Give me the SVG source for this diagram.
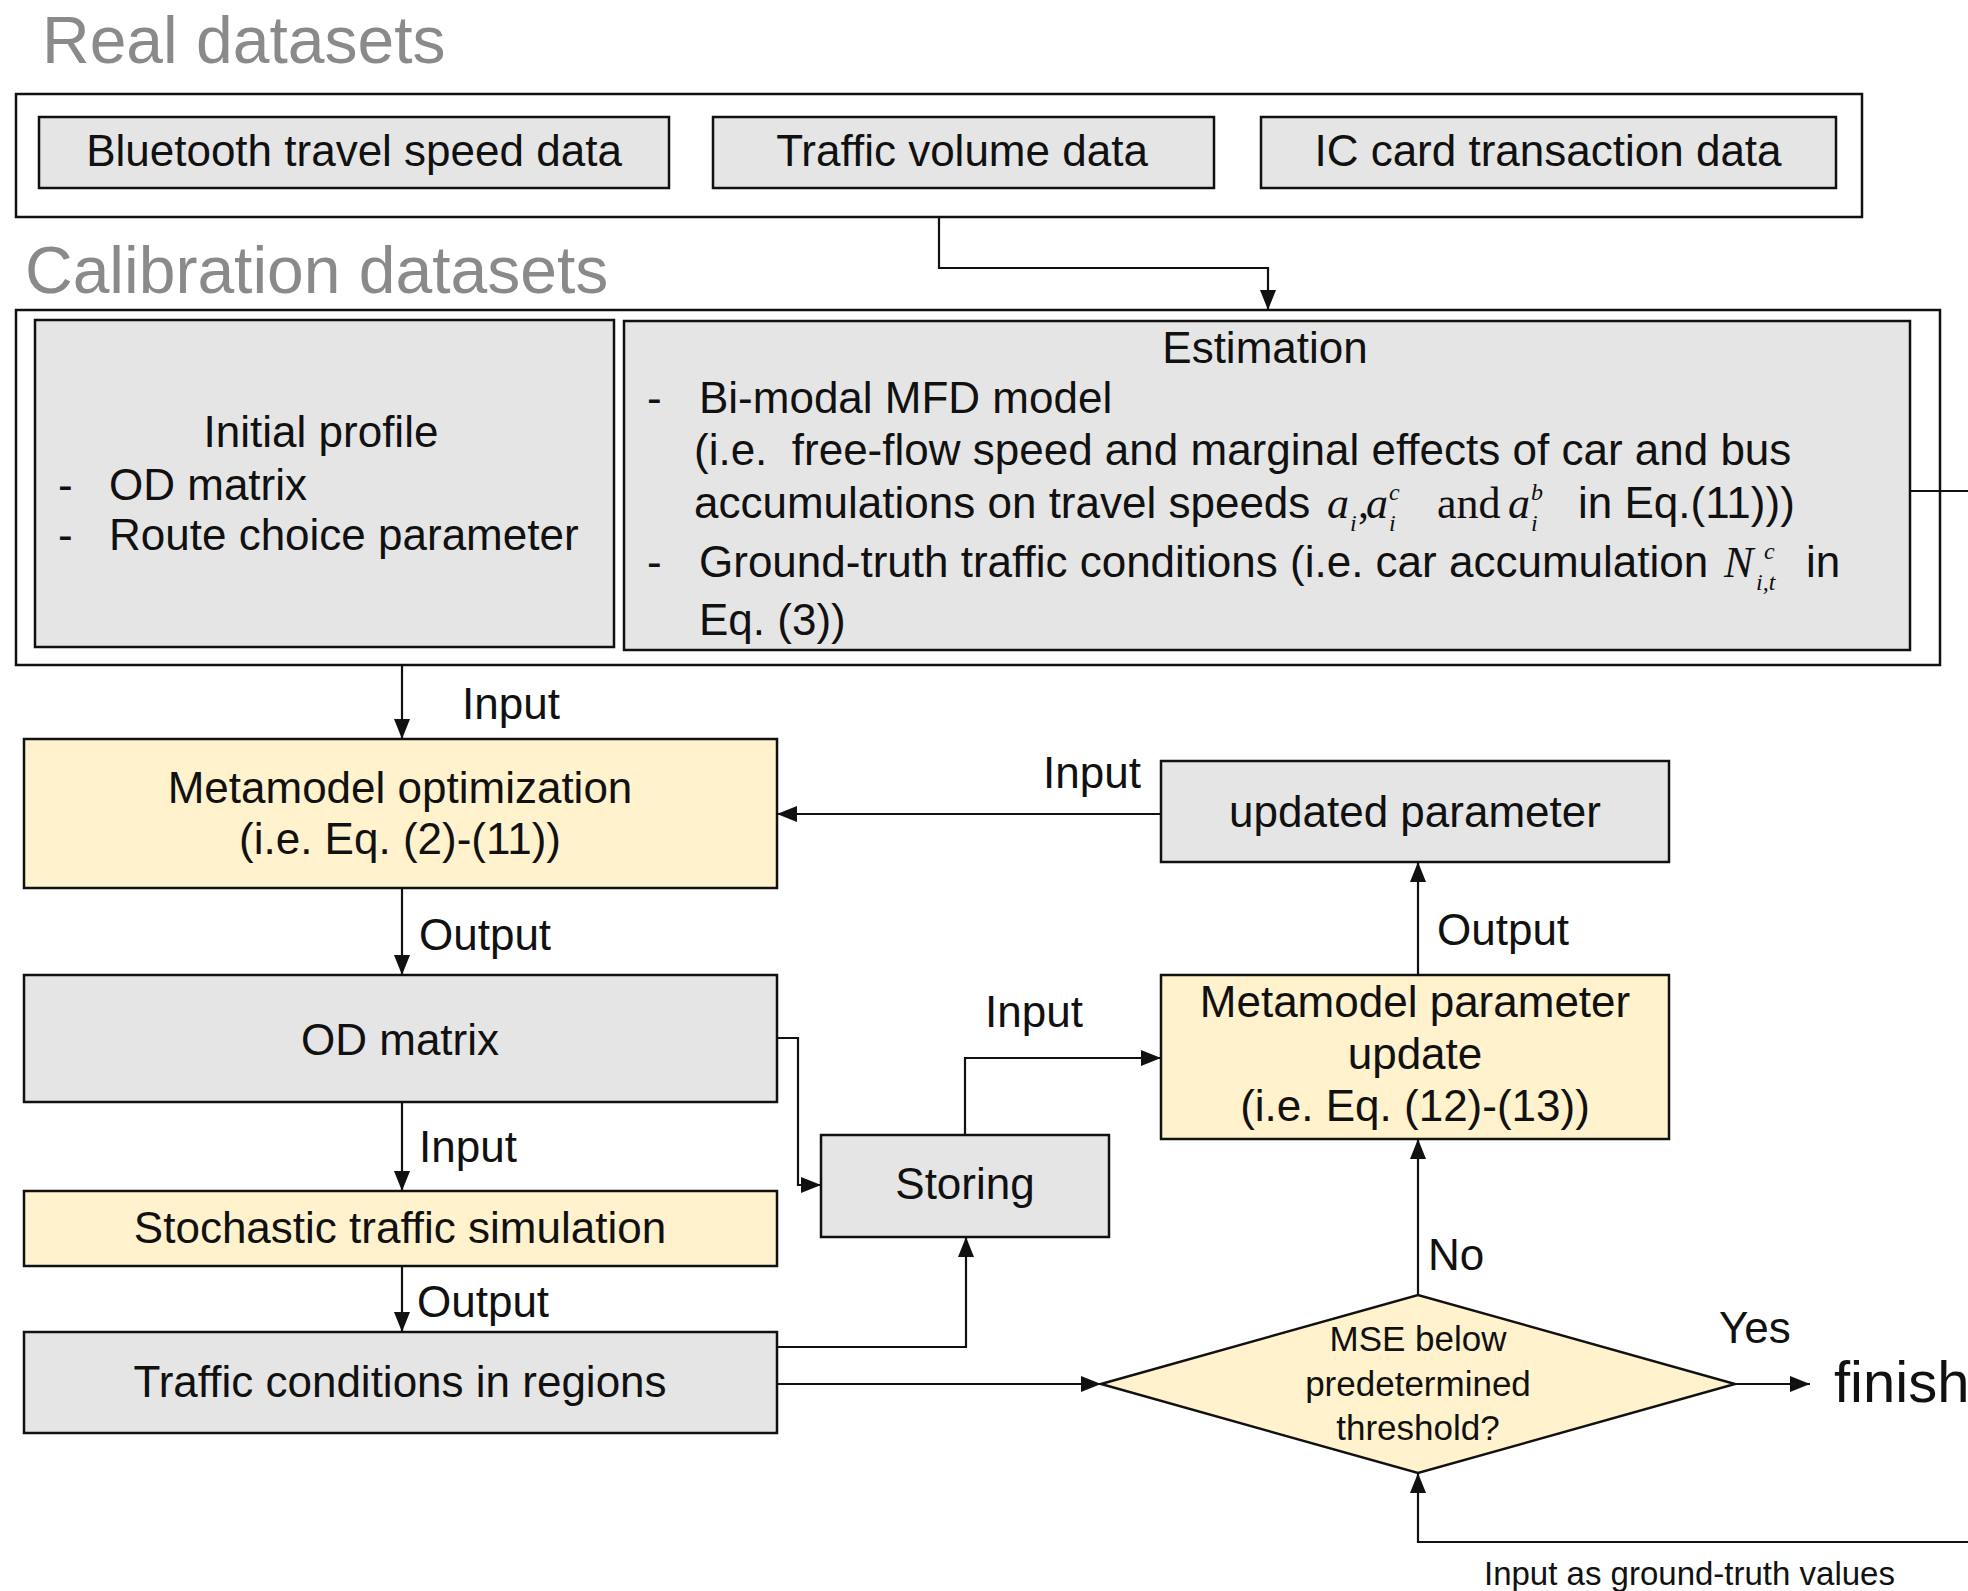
<svg xmlns="http://www.w3.org/2000/svg" width="1968" height="1591" viewBox="0 0 1968 1591">
<defs>
<style>
text{font-family:"Liberation Sans",Arial,sans-serif;fill:#111;}
.t{font-size:44px;}
.c{text-anchor:middle;}
.h{font-size:66px;fill:#8a8a8a;}
.g{fill:#e5e5e5;stroke:#111;stroke-width:2.5;}
.y{fill:#fff2cc;stroke:#111;stroke-width:2.5;}
.w{fill:#fff;stroke:#111;stroke-width:2.5;}
.ln{fill:none;stroke:#111;stroke-width:2.2;}
.m{font-family:"Liberation Serif","Times New Roman",serif;font-style:italic;font-size:44px;}
.r{font-family:"Liberation Serif","Times New Roman",serif;font-size:44px;}
.s{font-family:"Liberation Serif","Times New Roman",serif;font-style:italic;font-size:24px;}
</style>
<marker id="ah" markerUnits="userSpaceOnUse" markerWidth="20" markerHeight="16" viewBox="0 0 20 16" refX="20" refY="8" orient="auto">
<path d="M0,0 L20,8 L0,16 Z" fill="#111"/>
</marker>
</defs>
<rect width="1968" height="1591" fill="#fff"/>

<text class="h" x="42" y="63">Real datasets</text>
<text class="h" x="25" y="293">Calibration datasets</text>

<g id="real-datasets">
<rect class="w" x="16" y="94" width="1846" height="123"/>
</g>
<g id="bluetooth">
<rect class="g" x="39" y="117" width="630" height="71"/>
<text class="t c" x="354" y="166">Bluetooth travel speed data</text>
</g>
<g id="traffic-volume">
<rect class="g" x="713" y="117" width="501" height="71"/>
<text class="t c" x="962" y="166">Traffic volume data</text>
</g>
<g id="ic-card">
<rect class="g" x="1261" y="117" width="575" height="71"/>
<text class="t c" x="1548" y="166">IC card transaction data</text>
</g>

<g id="calibration-datasets">
<rect class="w" x="16" y="310" width="1924" height="355"/>
</g>
<g id="initial-profile">
<rect class="g" x="35" y="320" width="579" height="327"/>
<text class="t c" x="321" y="447">Initial profile</text>
<text class="t" x="58" y="500">-</text>
<text class="t" x="109" y="500">OD matrix</text>
<text class="t" x="58" y="550">-</text>
<text class="t" x="109" y="550">Route choice parameter</text>
</g>
<g id="estimation">
<rect class="g" x="624" y="321" width="1286" height="329"/>
<text class="t c" x="1265" y="363">Estimation</text>
<text class="t" x="647" y="413">-</text>
<text class="t" x="699" y="413">Bi-modal MFD model</text>
<text class="t" x="694" y="465" xml:space="preserve">(i.e.  free-flow speed and marginal effects of car and bus</text>
<text class="t" x="694" y="518">accumulations on travel speeds</text>
<text class="m" x="1327" y="518">a</text>
<text class="s" x="1350" y="531">i</text>
<text class="r" x="1358" y="518">,</text>
<text class="m" x="1366" y="518">a</text>
<text class="s" x="1389" y="531">i</text>
<text class="s" x="1389" y="500">c</text>
<text class="r" x="1437" y="518">and</text>
<text class="m" x="1508" y="518">a</text>
<text class="s" x="1531" y="531">i</text>
<text class="s" x="1531" y="500">b</text>
<text class="t" x="1578" y="518">in Eq.(11)))</text>
<text class="t" x="647" y="577">-</text>
<text class="t" x="699" y="577">Ground-truth traffic conditions (i.e. car accumulation</text>
<text class="m" x="1724" y="577">N</text>
<text class="s" x="1756" y="590">i,t</text>
<text class="s" x="1764" y="559">c</text>
<text class="t" x="1806" y="577">in</text>
<text class="t" x="699" y="635">Eq. (3))</text>
</g>

<g id="metamodel-optimization">
<rect class="y" x="24" y="739" width="753" height="149"/>
<text class="t c" x="400" y="803">Metamodel optimization</text>
<text class="t c" x="400" y="854">(i.e. Eq. (2)-(11))</text>
</g>
<g id="updated-parameter">
<rect class="g" x="1161" y="761" width="508" height="101"/>
<text class="t c" x="1415" y="827">updated parameter</text>
</g>
<g id="od-matrix">
<rect class="g" x="24" y="975" width="753" height="127"/>
<text class="t c" x="400" y="1055">OD matrix</text>
</g>
<g id="metamodel-parameter-update">
<rect class="y" x="1161" y="975" width="508" height="164"/>
<text class="t c" x="1415" y="1017">Metamodel parameter</text>
<text class="t c" x="1415" y="1069">update</text>
<text class="t c" x="1415" y="1121">(i.e. Eq. (12)-(13))</text>
</g>
<g id="storing">
<rect class="g" x="821" y="1135" width="288" height="102"/>
<text class="t c" x="965" y="1199">Storing</text>
</g>
<g id="stochastic-simulation">
<rect class="y" x="24" y="1191" width="753" height="75"/>
<text class="t c" x="400" y="1243">Stochastic traffic simulation</text>
</g>
<g id="traffic-conditions">
<rect class="g" x="24" y="1332" width="753" height="101"/>
<text class="t c" x="400" y="1397">Traffic conditions in regions</text>
</g>
<g id="mse-decision">
<path class="y" d="M1101,1384 L1418,1295 L1735,1384 L1418,1473 Z"/>
<text class="c" style="font-size:35px" x="1418" y="1351">MSE below</text>
<text class="c" style="font-size:35px" x="1418" y="1396">predetermined</text>
<text class="c" style="font-size:35px" x="1418" y="1440">threshold?</text>
</g>
<g id="finish">
<text x="1834" y="1402" style="font-size:58px">finish</text>
</g>

<g id="connectors">
<path class="ln" d="M939,217 V268 H1268 V310" marker-end="url(#ah)"/>
<path class="ln" d="M1910,491 H1968"/>
<path class="ln" d="M402,665 V739" marker-end="url(#ah)"/>
<path class="ln" d="M1161,814 H777" marker-end="url(#ah)"/>
<path class="ln" d="M1418,975 V862" marker-end="url(#ah)"/>
<path class="ln" d="M402,888 V975" marker-end="url(#ah)"/>
<path class="ln" d="M777,1038 H798 V1185 H821" marker-end="url(#ah)"/>
<path class="ln" d="M965,1135 V1058 H1161" marker-end="url(#ah)"/>
<path class="ln" d="M402,1102 V1191" marker-end="url(#ah)"/>
<path class="ln" d="M402,1266 V1332" marker-end="url(#ah)"/>
<path class="ln" d="M777,1347 H966 V1237" marker-end="url(#ah)"/>
<path class="ln" d="M777,1384 H1101" marker-end="url(#ah)"/>
<path class="ln" d="M1418,1295 V1139" marker-end="url(#ah)"/>
<path class="ln" d="M1735,1384 H1810" marker-end="url(#ah)"/>
<path class="ln" d="M1968,1542 H1418 V1473" marker-end="url(#ah)"/>
<text class="t" x="462" y="719">Input</text>
<text class="t" x="1043" y="788">Input</text>
<text class="t" x="1437" y="945">Output</text>
<text class="t" x="419" y="950">Output</text>
<text class="t" x="985" y="1027">Input</text>
<text class="t" x="419" y="1162">Input</text>
<text class="t" x="417" y="1317">Output</text>
<text class="t" x="1428" y="1270">No</text>
<text class="t" x="1719" y="1343">Yes</text>
<text x="1484" y="1585" style="font-size:33px">Input as ground-truth values</text>
</g>
</svg>
